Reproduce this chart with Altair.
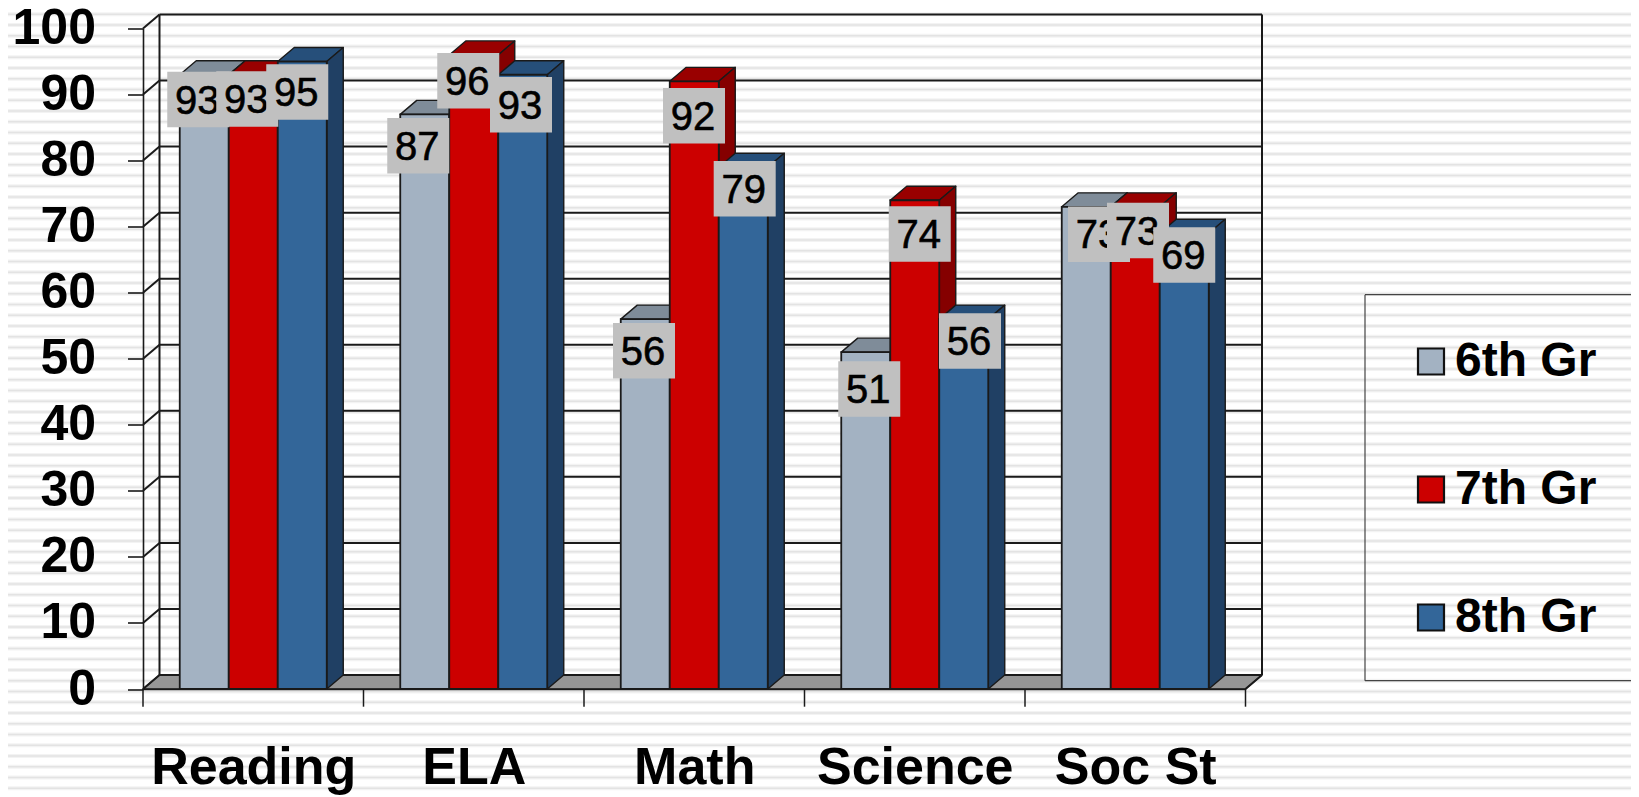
import altair as alt
import pandas as pd

# ---- chart values
subjects = ["Reading", "ELA", "Math", "Science", "Soc St"]
grades = ["6th Gr", "7th Gr", "8th Gr"]
grade6 = [93, 87, 56, 51, 73]
grade7 = [93, 96, 92, 74, 73]
grade8 = [95, 93, 79, 56, 69]
y_ticks = list(range(0, 101, 10))

# ---- styling
front = ["#A3B2C2", "#CC0000", "#336699"]
top_c = ["#7F8C99", "#990000", "#264F7A"]
side_c = ["#6F7B87", "#850000", "#204064"]
INK = "#1A1A1A"
FONT = "Liberation Sans"

# pixels per category / per unit, and depth of the 3D effect
PX, PY = 220.5, 6.605
DX, DY = 16.5 / PX, 14 / PY
BAR_W, GROUP_OFF = 2 / 9, 1 / 6
# label nudges in pixels relative to the bar's centre top
label_dx = [[-6, -6, -5], [-6.5, -5.5, -1.75], [-1.25, -0.25, 1.45], [3.5, 5, 6.25], [12.75, 2.75, 0]]
label_dy = [[24.8, 24.3, 30.5], [31.3, 25.9, 30], [31.6, 34.4, 21.5], [36.9, 33.8, 21.9], [27.5, 23.7, 21.7]]
BOX_W, BOX_H = 62 / PX, 55.5 / PY

xs = alt.Scale(domain=[0, 5], nice=False, zero=False)
ys = alt.Scale(domain=[0, 100], nice=False, zero=False)

x_axis = alt.Axis(
    values=[i + 0.5 for i in range(5)],
    labelExpr="{}[floor(datum.value)]".format(subjects),
    title=None, ticks=False, grid=False, domainColor=INK, domainWidth=1.6,
    labelFont=FONT, labelFontWeight="bold", labelFontSize=52, labelColor="#000000", labelLimit=400,
    labelPadding=53, labelAngle=0, labelFlush=False, labelOverlap=False, labelBound=False, zindex=1,
)
y_axis = alt.Axis(
    values=y_ticks, title=None, grid=False, tickSize=15.5, tickColor=INK, tickWidth=1.6,
    domainColor=INK, domainWidth=1.6,
    labelFont=FONT, labelFontWeight="bold", labelFontSize=50, labelColor="#000000",
    labelPadding=32, labelFlush=False, labelOverlap=False, labelBound=False, zindex=1,
)
X = lambda f="x": alt.X(f"{f}:Q", scale=xs, axis=x_axis)
Y = lambda f="y": alt.Y(f"{f}:Q", scale=ys, axis=y_axis, stack=None)


def rules(rows, **mark):
    return alt.Chart(pd.DataFrame(rows, columns=["x", "x2", "y", "y2"])).mark_rule(**mark).encode(
        x=X(), x2="x2:Q", y=Y(), y2="y2:Q")


def face(rows, fill):
    d = pd.DataFrame(rows, columns=["g", "x", "y", "y2"])
    return alt.Chart(d).mark_area(fill=fill, stroke=INK, strokeWidth=1.4, strokeJoin="round", opacity=1).encode(
        x=X(), y=Y(), y2="y2:Q", detail="g:N")


layers = []

# striped slide background: a soft band with a slightly darker core
stripes = [3.5 + 10.75 * k for k in range(74)]
left, right = -135 / PX, (1631 - 143) / PX
stripe_rows = [[left, right, (689 - p) / PY, (689 - p) / PY] for p in stripes]
layers.append(rules(stripe_rows, color="#F3F3F3", strokeWidth=4))
layers.append(rules(stripe_rows, color="#E3E3E3", strokeWidth=1.5))

# floor of the 3D box
layers.append(face([[0, 0, 0, 0], [0, DX, DY, 0], [0, 5, DY, 0], [0, 5 + DX, DY, DY]], "#969696"))

# walls, gridlines and their diagonals
wall = [[DX, 5 + DX, t + DY, t + DY] for t in y_ticks]
wall += [[0, DX, t, t + DY] for t in y_ticks]
wall += [[DX, DX, DY, 100 + DY], [5 + DX, 5 + DX, DY, 100 + DY], [5, 5 + DX, 0, DY]]
layers.append(rules(wall, color=INK, strokeWidth=2))

# category ticks under the floor
layers.append(rules([[i, i, 0, -17.7 / PY] for i in range(6)], color=INK, strokeWidth=1.5))

# bars
values = [grade6, grade7, grade8]
for j, (g, vals) in enumerate(zip(grades, values)):
    x0 = [i + GROUP_OFF + j * BAR_W for i in range(5)]
    top_rows, side_rows = [], []
    for i, (a, v) in enumerate(zip(x0, vals)):
        top_rows += [[i, a, v, v], [i, a + DX, v + DY, v], [i, a + BAR_W, v + DY, v],
                     [i, a + BAR_W + DX, v + DY, v + DY]]
        side_rows += [[i, a + BAR_W, v, 0], [i, a + BAR_W + DX, v + DY, DY]]
    layers.append(face(top_rows, top_c[j]))
    layers.append(face(side_rows, side_c[j]))
    d = pd.DataFrame({"subject": subjects, "grade": g, "x": x0, "x2": [a + BAR_W for a in x0],
                      "y": vals, "y2": [0] * 5})
    layers.append(alt.Chart(d).mark_rect(stroke=INK, strokeWidth=1.8).encode(
        x=X(), x2="x2:Q", y=Y(), y2="y2:Q",
        color=alt.Color("grade:N", scale=alt.Scale(domain=grades, range=front),
                        legend=alt.Legend(
                            title=None, orient="none", legendX=1264, legendY=309, padding=0,
                            symbolType="square", symbolSize=676, symbolStrokeColor="#111111",
                            symbolStrokeWidth=2.2, symbolOpacity=1, labelOffset=0,
                            labelFont=FONT, labelFontWeight="bold", labelFontSize=48,
                            labelColor="#000000", rowPadding=80, labelLimit=300)),
    ))

# legend frame, open on its right side as in the reference
lx = (1365 - 143) / PX
ly0, ly1 = (689 - 294.7) / PY, (689 - 680.7) / PY
layers.append(rules([[lx, right, ly0, ly0], [lx, right, ly1, ly1], [lx, lx, ly1, ly0]],
                    color="#444444", strokeWidth=1.2))

# grey data label boxes and their numbers, drawn series by series
for j, vals in enumerate(values):
    rows = []
    for i, v in enumerate(vals):
        cx = i + GROUP_OFF + (j + 0.5) * BAR_W + label_dx[i][j] / PX
        cy = v - label_dy[i][j] / PY
        rows.append(dict(value=v, x=cx, xa=cx - BOX_W / 2, xb=cx + BOX_W / 2,
                         ya=cy - BOX_H / 2, yb=cy + BOX_H / 2, y=cy))
    d = pd.DataFrame(rows)
    layers.append(alt.Chart(d).mark_rect(fill="#C0C0C0").encode(
        x=X("xa"), x2="xb:Q", y=Y("ya"), y2="yb:Q"))
    layers.append(alt.Chart(d).mark_text(font=FONT, fontSize=40, color="#000000", stroke="#000000",
                                         strokeWidth=0.6, align="center", baseline="middle",
                                         dx=-1, dy=2).encode(
        x=X(), y=Y(), text=alt.Text("value:Q")))

chart = alt.layer(*layers).properties(
    width=1102.5, height=660.5,
    autosize=alt.AutoSizeParams(type="none"),
    padding={"left": 135, "top": 20.5, "right": 385.5, "bottom": 108},
    background="#FFFFFF",
).configure_view(stroke=None)

chart.save("out.html", embed_options={"renderer": "svg", "actions": False})
